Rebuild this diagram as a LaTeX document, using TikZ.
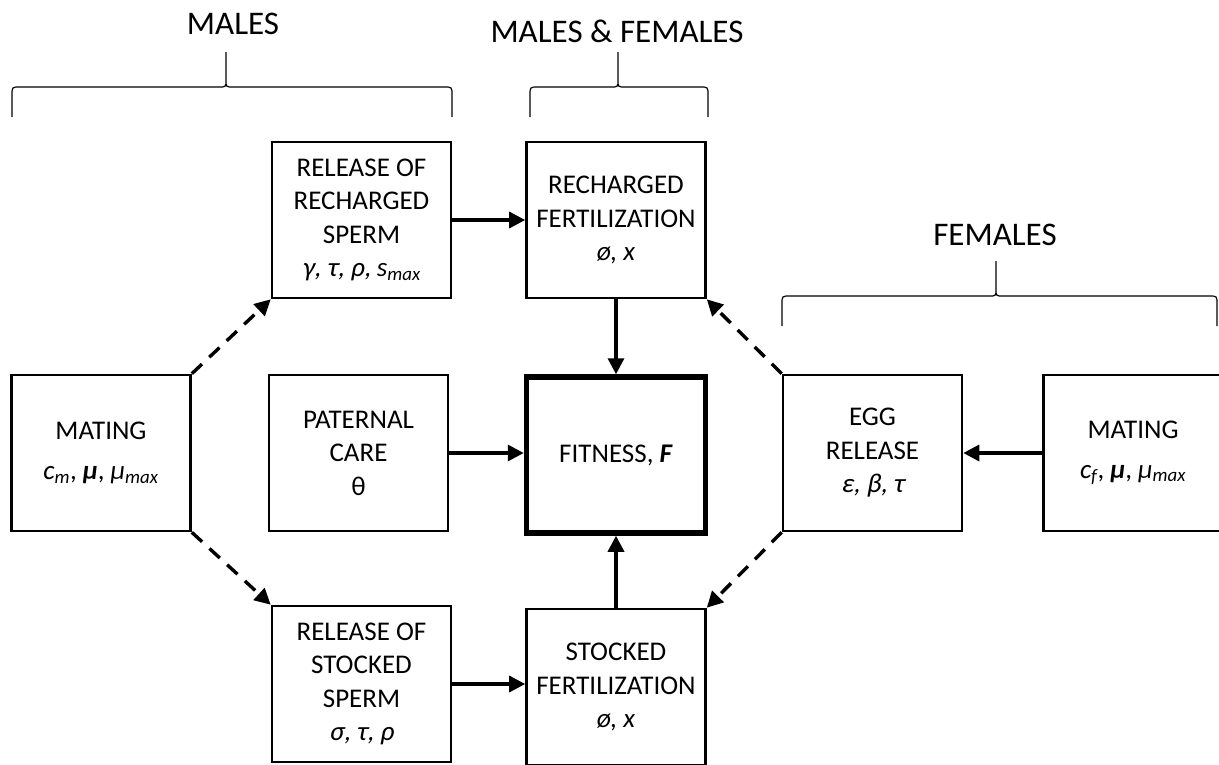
\documentclass[tikz,border=0pt]{standalone}
\usepackage{fontspec}
\setmainfont{Carlito}
\newfontfamily\grk[FakeSlant=0.18]{Carlito}
\usepackage{tikz}
\usetikzlibrary{positioning,arrows.meta,calc}

% curly bracket: left x, tip x, right x, tip y, flat y, end y
\newcommand{\brc}[6]{%
  \draw[brace] (#1,#6) -- (#1,#5+8) .. controls (#1,#5) .. (#1+8,#5)
    -- (#2-7,#5) .. controls (#2,#5) .. (#2,#5-7) -- (#2,#4)
    (#2,#5-7) .. controls (#2,#5) .. (#2+7,#5)
    -- (#3-8,#5) .. controls (#3,#5) .. (#3,#5+8) -- (#3,#6);}

\begin{document}
\begin{tikzpicture}[
          x=1pt, y=-1pt,
          box/.style={draw, line width=2.6pt, minimum width=179pt, minimum height=156pt,
                      inner sep=0pt, align=center, font=\fontsize{27}{33.5}\selectfont},
          fitbox/.style={box, line width=5.5pt},
          grp/.style={font=\fontsize{33}{40}\selectfont},
          brace/.style={line width=1.2pt},
          arr/.style={line width=3.4pt, -{Triangle[length=16pt,width=16pt]}},
          darr/.style={arr, dash pattern=on 14pt off 10pt}
      ]
        \useasboundingbox (0,0) rectangle (1219,764);
        % group labels
        \node[grp] (lblM) at (233,24) {MALES};
        \node[grp] (lblMF) at (617,31) {MALES \& FEMALES};
        \node[grp] (lblF) at (995,235) {FEMALES};
        \brc{12}{226}{452}{52}{87}{117}
        \brc{530}{618}{708}{52}{87}{117}
        \brc{782}{996}{1217}{261}{296}{326}
        % boxes
        \node[box] (mateM) at (101,453) {MATING\\[6pt]\textit{c\textsubscript{m}}, \textbf{\textit{μ}}, \textit{μ\textsubscript{max}}};
        \node[box] (relRech) at (361.5,220) {RELEASE OF\\RECHARGED\\SPERM\\{\grk γ, τ, ρ,} \textit{s\textsubscript{max}}};
        \node[box] (fertRech) at (616,220) {RECHARGED\\FERTILIZATION\\\textit{ø, x}};
        \node[box] (care) at (358.5,453) {PATERNAL\\CARE\\θ};
        \node[fitbox] (fit) at (616,455) {FITNESS, \textbf{\textit{F}}};
        \node[box] (egg) at (872.5,453) {EGG\\RELEASE\\{\grk ε, β, τ}};
        \node[box] (mateF) at (1133,453) {MATING\\[6pt]\textit{c\textsubscript{f}}, \textbf{\textit{μ}}, \textit{μ\textsubscript{max}}};
        \node[box] (relStock) at (361.5,684) {RELEASE OF\\STOCKED\\SPERM\\{\grk σ, τ, ρ}};
        \node[box] (fertStock) at (616,687) {STOCKED\\FERTILIZATION\\\textit{ø, x}};
        % solid links
        \draw[arr] (relRech.east) -- (fertRech.west);
        \draw[arr] (relStock.east) -- (relStock.east -| fertStock.west);
        \draw[arr] (fertRech.south) -- (fit.north);
        \draw[arr] (fertStock.north) -- (fit.south);
        \draw[arr] (care.east) -- (care.east -| fit.west);
        \draw[arr] (mateF.west) -- (egg.east);
        % dashed links
        \draw[darr] (mateM.north east) -- (relRech.south west);
        \draw[darr] (mateM.south east) -- (relStock.north west);
        \draw[darr] (egg.north west) -- (fertRech.south east);
        \draw[darr] (egg.south west) -- (fertStock.north east);
      \end{tikzpicture}
\end{document}
